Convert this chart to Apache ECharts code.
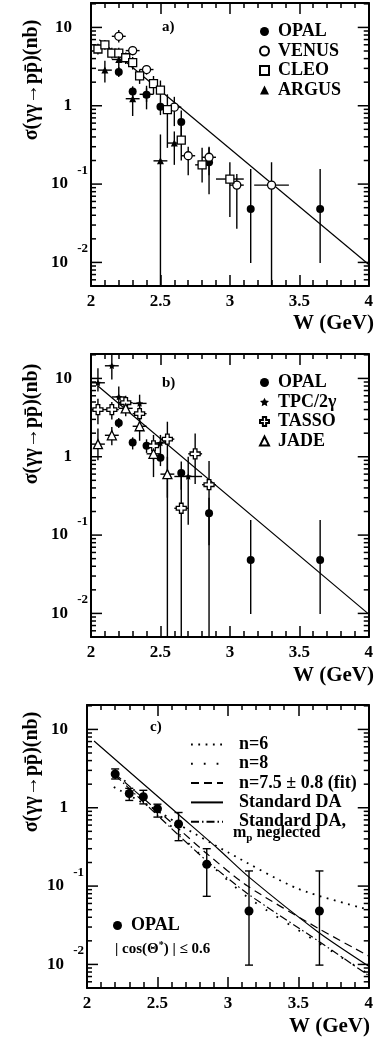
<!DOCTYPE html>
<html><head><meta charset="utf-8">
<script src="https://cdn.jsdelivr.net/npm/echarts@6/dist/echarts.min.js"></script>
<style>html,body{margin:0;padding:0;background:#fff}#c{width:376px;height:1040px}</style>
</head><body><div id="c"></div>
<script>
// ---------------- data ----------------
const X_TICK_LABELS = ['2', '2.5', '3', '3.5', '4'];
const Y_DECADES = [0.001, 0.01, 0.1, 1, 10];
const Y_MINOR_MULT = [2, 3, 4, 5, 6, 7, 8, 9];

// OPAL (all panels)
const OPAL_W  = [2.2, 2.3, 2.4, 2.5, 2.65, 2.85, 3.15, 3.65];
const OPAL_S  = [2.7, 1.52, 1.38, 0.97, 0.62, 0.19, 0.048, 0.048];
const OPAL_LO = [2.33, 1.24, 1.12, 0.76, 0.38, 0.074, 0.0098, 0.0098];
const OPAL_HI = [3.13, 1.77, 1.67, 1.11, 0.87, 0.30, 0.156, 0.156];

// panel a
const VENUS_W  = [2.2, 2.3, 2.4, 2.6, 2.7, 2.85, 3.05, 3.3];
const VENUS_S  = [7.7, 5.06, 2.9, 0.96, 0.23, 0.22, 0.097, 0.097];
const VENUS_LO = [6.4, 4.4, 2.5, 0.55, 0.13, 0.13, 0.027, 0.003];
const VENUS_HI = [9.3, 5.8, 3.3, 1.3, 0.30, 0.29, 0.135, 0.19];
const VENUS_DW = [0.05, 0.05, 0.05, 0.05, 0.05, 0.05, 0.05, 0.125];

const CLEO_W  = [2.05, 2.1, 2.15, 2.2, 2.25, 2.3, 2.35, 2.45, 2.5, 2.55, 2.65, 2.8, 3.0];
const CLEO_S  = [5.3, 6.0, 4.7, 4.7, 4.1, 3.55, 2.4, 1.92, 1.58, 0.89, 0.365, 0.176, 0.116];
const CLEO_LO = [4.5, 5.2, 4.0, 4.0, 3.4, 2.9, 1.9, 1.4, 1.1, 0.29, 0.2, 0.105, 0.038];
const CLEO_HI = [6.2, 6.9, 5.5, 5.5, 4.8, 4.2, 2.9, 2.4, 2.1, 1.4, 0.55, 0.29, 0.19];
const CLEO_DW = [0.025, 0.025, 0.025, 0.025, 0.025, 0.025, 0.025, 0.025, 0.025, 0.025, 0.025, 0.05, 0.1];

const ARGUS_W  = [2.1, 2.2, 2.3, 2.4, 2.5, 2.6];
const ARGUS_S  = [2.85, 3.9, 1.23, 1.40, 0.198, 0.334];
const ARGUS_LO = [1.98, 3.0, 0.74, 0.9, 0.003, 0.176];
const ARGUS_HI = [3.76, 5.0, 1.55, 1.8, 0.43, 0.47];
const ARGUS_DW = [0.05, 0.05, 0.05, 0.05, 0.05, 0.05];

const FIT_A_W = [2.06, 4.0];
const FIT_A_S = [6.95, 0.0094];

// panel b
const TPC_W  = [2.05, 2.15, 2.2, 2.35, 2.5, 2.7];
const TPC_S  = [8.8, 14.5, 5.8, 4.8, 1.5, 0.56];
const TPC_LO = [6.8, 9.7, 4.2, 3.2, 1.1, 0.136];
const TPC_HI = [13.5, 20, 7.9, 6.2, 1.9, 1.0];
const TPC_DW = [0.05, 0.05, 0.05, 0.05, 0.05, 0.1];

const TASSO_W  = [2.05, 2.15, 2.25, 2.35, 2.45, 2.55, 2.65, 2.75, 2.85];
const TASSO_S  = [4.0, 4.0, 4.9, 3.55, 1.38, 1.68, 0.22, 1.09, 0.44];
const TASSO_LO = [2.6, 3.0, 3.8, 2.7, 0.9, 0.3, 0.003, 0.45, 0.003];
const TASSO_HI = [5.5, 5.0, 6.0, 4.5, 1.9, 2.8, 0.63, 1.98, 0.88];
const TASSO_DW = [0.05, 0.05, 0.05, 0.05, 0.05, 0.05, 0.05, 0.05, 0.05];

const JADE_W  = [2.05, 2.15, 2.25, 2.35, 2.45, 2.55];
const JADE_S  = [1.45, 1.88, 4.15, 2.45, 1.09, 0.6];
const JADE_LO = [0.9, 1.4, 3.3, 1.6, 0.55, 0.003];
const JADE_HI = [2.3, 2.4, 5.2, 3.4, 1.6, 1.0];
const JADE_DW = [0.05, 0.05, 0.05, 0.05, 0.05, 0.05];

const FIT_B_W = [2.05, 4.0];
const FIT_B_S = [8.0, 0.0098];

// panel c curves
const N6_W   = [2.19, 2.53, 2.66, 3.0, 3.5, 4.0];
const N6_S   = [1.84, 0.85, 0.6, 0.27, 0.092, 0.05];
const N8_W   = [2.2, 2.66, 2.85, 3.14, 3.64, 4.0];
const N8_S   = [2.9, 0.45, 0.21, 0.072, 0.019, 0.0075];
const FITC_W = [2.2, 2.66, 2.85, 3.14, 3.64, 4.0];
const FITC_S = [2.7, 0.52, 0.26, 0.1, 0.029, 0.0128];
const DA_W   = [2.05, 2.65, 2.93, 3.15, 3.64, 4.0];
const DA_S   = [7.1, 0.82, 0.30, 0.13, 0.026, 0.0095];
const DA2_W  = [2.2, 2.66, 2.85, 3.14, 3.64, 4.0];
const DA2_S  = [2.6, 0.43, 0.21, 0.08, 0.020, 0.0072];

// ---------------- layout / style ----------------
const FONT = "'Liberation Serif','DejaVu Serif',serif";
const GRIDS = [
  {left: 91, top: 3, width: 283, height: 283},
  {left: 91, top: 354, width: 283, height: 283},
  {left: 87, top: 705, width: 283, height: 283}
];
const YMIN = 0.005, YMAX = 20.5;
const BLACK = '#000';

const pairs = (xs, ys) => xs.map((x, i) => [x, ys[i]]);

const xAxes = [], yAxes = [];
GRIDS.forEach((g, i) => {
  xAxes.push({
    gridIndex: i, type: 'value', min: 2, max: 4, interval: 0.5, position: 'bottom',
    axisLine: {lineStyle: {color: BLACK, width: 2}},
    axisTick: {inside: true, length: 11, lineStyle: {color: BLACK, width: 1.5}},
    minorTick: {show: true, splitNumber: 5, length: 6, lineStyle: {color: BLACK, width: 1.5}},
    splitLine: {show: false},
    axisLabel: {
      margin: 7, color: BLACK, fontFamily: FONT, fontWeight: 'bold', fontSize: 17,
      formatter: v => X_TICK_LABELS[Math.round((v - 2) / 0.5)]
    }
  });
  xAxes.push({
    gridIndex: i, type: 'value', min: 2, max: 4, interval: 0.5, position: 'top',
    axisLine: {lineStyle: {color: BLACK, width: 2}},
    axisTick: {inside: true, length: 11, lineStyle: {color: BLACK, width: 1.5}},
    minorTick: {show: true, splitNumber: 5, length: 5, lineStyle: {color: BLACK, width: 1.5}},
    splitLine: {show: false}, axisLabel: {show: false}
  });
  yAxes.push({
    gridIndex: i, type: 'log', logBase: 10, min: YMIN, max: YMAX, position: 'left',
    axisLine: {show: true, lineStyle: {color: BLACK, width: 2}},
    axisTick: {show: false}, splitLine: {show: false}, minorTick: {show: false},
    axisLabel: {
      margin: 3, showMinLabel: false, showMaxLabel: false,
      formatter: v => {
        const l = Math.log10(v), e = Math.round(l);
        if (Math.abs(l - e) > 1e-6) return '';
        if (e === 1) return '{b|10}{p| }';
        if (e === 0) return '{b|1}{p| }';
        return '{b|10}{s|' + e + '}';
      },
      rich: {
        b: {fontFamily: FONT, fontWeight: 'bold', fontSize: 17, color: BLACK, lineHeight: 40, verticalAlign: 'middle'},
        s: {fontFamily: FONT, fontWeight: 'bold', fontSize: 13, color: BLACK, lineHeight: 13, verticalAlign: 'top', width: 14, padding: [0, 0, 0, 6]},
        p: {width: 16}
      }
    }
  });
  yAxes.push({
    gridIndex: i, type: 'log', logBase: 10, min: YMIN, max: YMAX, position: 'right',
    axisLine: {show: true, lineStyle: {color: BLACK, width: 2}},
    axisTick: {show: false}, splitLine: {show: false}, axisLabel: {show: false}
  });
});

// y tick marks (decades + 2..9 minors) on both sides
const yTickVals = [];
Y_DECADES.forEach(d => {
  yTickVals.push([d, 1]);
  Y_MINOR_MULT.forEach(m => yTickVals.push([d * m, 0]));
});
function yTickSeries(gi) {
  return {
    type: 'custom', xAxisIndex: gi * 2, yAxisIndex: gi * 2, silent: true, z: 1, clip: false,
    data: yTickVals.filter(t => t[0] > YMIN && t[0] < YMAX),
    renderItem: (params, api) => {
      const v = api.value(0), major = api.value(1) === 1;
      const len = major ? 11 : 5;
      const pl = api.coord([2, v]), pr = api.coord([4, v]);
      const st = {stroke: BLACK, lineWidth: 1.5};
      return {type: 'group', children: [
        {type: 'line', shape: {x1: pl[0], y1: pl[1], x2: pl[0] + len, y2: pl[1]}, style: st},
        {type: 'line', shape: {x1: pr[0], y1: pr[1], x2: pr[0] - len, y2: pr[1]}, style: st}
      ]};
    }
  };
}

function errSeries(gi, W, S, LO, HI, DW, cap) {
  return {
    type: 'custom', xAxisIndex: gi * 2, yAxisIndex: gi * 2, silent: true, z: 2, clip: true,
    dimensions: ['w', 's', 'lo', 'hi', 'dw'], encode: {x: 0, y: 1},
    data: W.map((w, i) => [w, S[i], LO[i], HI[i], DW ? DW[i] : 0]),
    renderItem: (params, api) => {
      const x = api.value(0), y = api.value(1), lo = api.value(2), hi = api.value(3), dw = api.value(4);
      const a = api.coord([x, lo]), b = api.coord([x, hi]);
      const st = {stroke: BLACK, lineWidth: 1.4};
      const ch = [{type: 'line', shape: {x1: a[0], y1: a[1], x2: b[0], y2: b[1]}, style: st}];
      if (dw > 0) {
        const l = api.coord([x - dw, y]), r = api.coord([x + dw, y]);
        ch.push({type: 'line', shape: {x1: l[0], y1: l[1], x2: r[0], y2: r[1]}, style: st});
      }
      if (cap) {
        ch.push({type: 'line', shape: {x1: a[0] - 4, y1: a[1], x2: a[0] + 4, y2: a[1]}, style: st});
        ch.push({type: 'line', shape: {x1: b[0] - 4, y1: b[1], x2: b[0] + 4, y2: b[1]}, style: st});
      }
      return {type: 'group', children: ch};
    }
  };
}

const STAR = 'path://M0,-10L2.9,-4L9.5,-3.1L4.7,1.5L5.9,8.1L0,5L-5.9,8.1L-4.7,1.5L-9.5,-3.1L-2.9,-4Z';
const CROSS = 'path://M-1.8,-5L1.8,-5L1.8,-1.8L5,-1.8L5,1.8L1.8,1.8L1.8,5L-1.8,5L-1.8,1.8L-5,1.8L-5,-1.8L-1.8,-1.8Z';

function markers(gi, name, W, S, symbol, size, open) {
  return {
    type: 'scatter', name, xAxisIndex: gi * 2, yAxisIndex: gi * 2, z: 4,
    symbol, symbolSize: size, symbolKeepAspect: true, data: pairs(W, S), clip: true,
    itemStyle: open ? {color: '#fff', borderColor: BLACK, borderWidth: 1.3, opacity: 1}
                    : {color: BLACK, borderColor: BLACK, borderWidth: 0, opacity: 1},
    emphasis: {disabled: true}
  };
}
function curve(gi, name, W, S, type, smooth, width) {
  return {
    type: 'line', name, xAxisIndex: gi * 2, yAxisIndex: gi * 2, z: 3,
    data: pairs(W, S), symbol: 'none', smooth: smooth ? 0.25 : false, clip: true,
    lineStyle: {color: BLACK, width: width || 1.2, type: type || 'solid'},
    itemStyle: {color: BLACK}, emphasis: {disabled: true}
  };
}

const series = [
  yTickSeries(0), yTickSeries(1), yTickSeries(2),
  // panel a
  errSeries(0, OPAL_W, OPAL_S, OPAL_LO, OPAL_HI, null, false),
  errSeries(0, VENUS_W, VENUS_S, VENUS_LO, VENUS_HI, VENUS_DW, false),
  errSeries(0, CLEO_W, CLEO_S, CLEO_LO, CLEO_HI, CLEO_DW, false),
  errSeries(0, ARGUS_W, ARGUS_S, ARGUS_LO, ARGUS_HI, ARGUS_DW, false),
  curve(0, 'fitA', FIT_A_W, FIT_A_S),
  markers(0, 'OPAL', OPAL_W, OPAL_S, 'circle', 8, false),
  markers(0, 'VENUS', VENUS_W, VENUS_S, 'circle', 8, true),
  markers(0, 'CLEO', CLEO_W, CLEO_S, 'rect', 8, true),
  markers(0, 'ARGUS', ARGUS_W, ARGUS_S, 'triangle', 7, false),
  // panel b
  errSeries(1, OPAL_W, OPAL_S, OPAL_LO, OPAL_HI, null, false),
  errSeries(1, TPC_W, TPC_S, TPC_LO, TPC_HI, TPC_DW, false),
  errSeries(1, TASSO_W, TASSO_S, TASSO_LO, TASSO_HI, TASSO_DW, false),
  errSeries(1, JADE_W, JADE_S, JADE_LO, JADE_HI, JADE_DW, false),
  curve(1, 'fitB', FIT_B_W, FIT_B_S),
  markers(1, 'OPAL', OPAL_W, OPAL_S, 'circle', 8, false),
  markers(1, 'TPC/2γ', TPC_W, TPC_S, STAR, 7, false),
  markers(1, 'TASSO', TASSO_W, TASSO_S, CROSS, 10, true),
  markers(1, 'JADE', JADE_W, JADE_S, 'triangle', 9, true),
  // panel c
  curve(2, 'n=6', N6_W, N6_S, [1.8, 5.5], true, 1.8),
  curve(2, 'n=8', N8_W, N8_S, [1.8, 11], true, 1.8),
  curve(2, 'n=7.5 ± 0.8 (fit)', FITC_W, FITC_S, [8, 5], true),
  curve(2, 'Standard DA', DA_W, DA_S, 'solid', true),
  curve(2, 'Standard DA,', DA2_W, DA2_S, [8, 3, 1.5, 3], true),
  errSeries(2, OPAL_W, OPAL_S, OPAL_LO, OPAL_HI, null, true),
  markers(2, 'OPAL', OPAL_W, OPAL_S, 'circle', 9, false)
];

const legendText = {color: BLACK, fontFamily: FONT, fontWeight: 'bold', fontSize: 18, lineHeight: 19, padding: [0, 0, 0, 4]};
const legends = [
  {left: 254, top: 17, orient: 'vertical', itemWidth: 9, itemHeight: 9, itemGap: 0.5, selectedMode: false,
   data: ['OPAL', 'VENUS', 'CLEO', 'ARGUS'], textStyle: legendText},
  {left: 254, top: 368, orient: 'vertical', itemWidth: 9, itemHeight: 9, itemGap: 0.5, selectedMode: false,
   data: ['OPAL', 'TPC/2γ', 'TASSO', 'JADE'], textStyle: legendText},
  {left: 185, top: 730, orient: 'vertical', itemWidth: 32, itemHeight: 10, itemGap: 0.3, selectedMode: false,
   itemStyle: {opacity: 0, borderWidth: 0},
   data: ['n=6', 'n=8', 'n=7.5 ± 0.8 (fit)', 'Standard DA', 'Standard DA,'],
   textStyle: Object.assign({}, legendText, {padding: [0, 0, 0, 11]})},
  {left: 108, top: 911, orient: 'vertical', itemWidth: 9, itemHeight: 9, selectedMode: false,
   data: ['OPAL'], textStyle: legendText}
];

const yTitle = 'σ(γγ→pp\u0304)(nb)';
function txt(x, y, text, size, align, extra) {
  return Object.assign({type: 'text', x, y, silent: true, style: {
    text, fill: BLACK, font: 'bold ' + size + 'px ' + FONT, textAlign: align || 'left', textVerticalAlign: 'middle'
  }}, extra || {});
}
const graphics = [
  txt(162, 27, 'a)', 15), txt(162, 383, 'b)', 15), txt(150, 727, 'c)', 15),
  txt(374, 324, 'W (GeV)', 21, 'right'), txt(374, 676, 'W (GeV)', 21, 'right'), txt(370, 1027, 'W (GeV)', 21, 'right'),
  txt(32, 80, yTitle, 20, 'center', {rotation: Math.PI / 2}),
  txt(32, 424, yTitle, 20, 'center', {rotation: Math.PI / 2}),
  txt(32, 772, yTitle, 20, 'center', {rotation: Math.PI / 2}),
  {type: 'text', x: 233, y: 833, silent: true, style: {
    text: '{m|m}{p|p}{m| neglected}', textVerticalAlign: 'middle',
    rich: {m: {font: 'bold 16px ' + FONT, fill: BLACK, lineHeight: 22, verticalAlign: 'middle'},
           p: {font: 'bold 11px ' + FONT, fill: BLACK, lineHeight: 11, verticalAlign: 'bottom'}}
  }},
  {type: 'text', x: 115, y: 949, silent: true, style: {
    text: '{m|| cos(Θ}{s|*}{m|) | ≤ 0.6}', textVerticalAlign: 'middle',
    rich: {m: {font: 'bold 15px ' + FONT, fill: BLACK, lineHeight: 18, verticalAlign: 'middle'},
           s: {font: 'bold 10px ' + FONT, fill: BLACK, lineHeight: 10, verticalAlign: 'top'}}
  }}
];

const chart = echarts.init(document.getElementById('c'), null, {renderer: 'canvas'});
chart.setOption({
  animation: false,
  backgroundColor: '#fff',
  grid: GRIDS,
  xAxis: xAxes,
  yAxis: yAxes,
  legend: legends,
  series,
  graphic: graphics
});
</script>
</body></html>
